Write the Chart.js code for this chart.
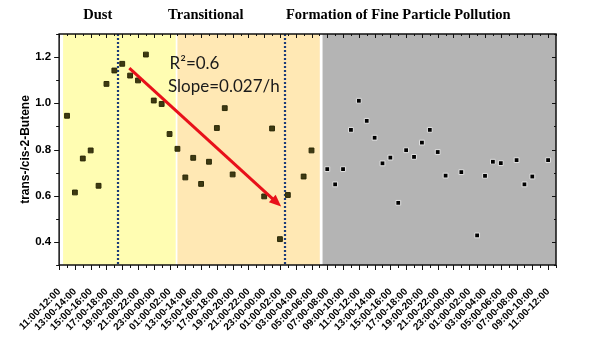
<!DOCTYPE html>
<html>
<head>
<meta charset="utf-8">
<script src="https://cdn.jsdelivr.net/npm/chart.js@4.4.1/dist/chart.umd.min.js"></script>
<style>
  html, body { margin: 0; padding: 0; background: #fff; }
  #wrap { width: 600px; height: 349px; }
</style>
</head>
<body>
<div id="wrap"><canvas id="myChart"></canvas></div>
<script>
// hourly trans-/cis-2-butene ratio, null = no sample that hour
const ratio = [
  0.946, 0.614, 0.761, 0.796, 0.643, 1.084, 1.142, 1.171, 1.120, 1.099,
  1.211, 1.012, 0.997, 0.867, 0.803, 0.679, 0.764, 0.651, 0.747, 0.893,
  0.979, 0.692, null, null, null, 0.597, 0.891, 0.412, 0.603, null,
  0.683, 0.796, null, 0.715, 0.649, 0.715, 0.885, 1.011, 0.924, 0.851,
  0.740, 0.765, 0.569, 0.797, 0.768, 0.830, 0.885, 0.789, 0.687, null,
  0.702, null, 0.428, 0.686, 0.747, 0.741, null, 0.754, 0.649, 0.683,
  null, 0.754
];

const xTickLabels = [
  '11:00-12:00', '13:00-14:00', '15:00-16:00', '17:00-18:00', '19:00-20:00',
  '21:00-22:00', '23:00-00:00', '01:00-02:00', '13:00-14:00', '15:00-16:00',
  '17:00-18:00', '19:00-20:00', '21:00-22:00', '23:00-00:00', '01:00-02:00',
  '03:00-04:00', '05:00-06:00', '07:00-08:00', '09:00-10:00', '11:00-12:00',
  '13:00-14:00', '15:00-16:00', '17:00-18:00', '19:00-20:00', '21:00-22:00',
  '23:00-00:00', '01:00-02:00', '03:00-04:00', '05:00-06:00', '07:00-08:00',
  '09:00-10:00', '11:00-12:00'
];

const yTickValues = [0.4, 0.6, 0.8, 1.0, 1.2];
const phaseNames = ['Dust', 'Transitional', 'Formation of Fine Particle Pollution'];
const fitText = ['R\u00B2=0.6', 'Slope=0.027/h'];

// layout of the annotations, in axis units
const shading = [
  { from: -0.5, to: 13.78, color: '#FFFDB2' },
  { from: 14.0, to: 32.05, color: '#FFE8B4' },
  { from: 32.4, to: 62, color: '#B4B4B4' }
];
const dividers = [6.48, 27.7];
const arrowLine = [{ x: 7.9, y: 1.152 }, { x: 27.15, y: 0.553 }];
const phaseCenters = [3.9, 17.6, 42.0];
const fitTextPos = [{ x: 13.0, y: 1.171 }, { x: 12.8, y: 1.071 }];

const points = ratio.map((v, i) => ({ x: i, y: v })).filter(p => p.y !== null);

function shaded(k) {
  return (k >= shading[0].from && k <= shading[0].to) || (k >= shading[1].from && k <= shading[1].to);
}

const decor = {
  id: 'decor',
  beforeDatasetsDraw(chart) {
    const { ctx, chartArea: a, scales: { x } } = chart;
    ctx.save();
    shading.forEach(s => {
      const x0 = x.getPixelForValue(s.from);
      const x1 = x.getPixelForValue(s.to);
      ctx.fillStyle = s.color;
      ctx.fillRect(x0, a.top, x1 - x0, a.bottom - a.top);
    });
    ctx.strokeStyle = '#1c3b7a';
    ctx.lineWidth = 2.2;
    ctx.setLineDash([2, 2]);
    dividers.forEach(d => {
      const px = Math.round(x.getPixelForValue(d));
      ctx.beginPath();
      ctx.moveTo(px, a.top);
      ctx.lineTo(px, a.bottom);
      ctx.stroke();
    });
    ctx.restore();
  },
  afterDatasetsDraw(chart) {
    const { ctx, chartArea: a, scales: { x, y } } = chart;
    ctx.save();

    // red trend arrow
    const x0 = x.getPixelForValue(arrowLine[0].x), y0 = y.getPixelForValue(arrowLine[0].y);
    const x1 = x.getPixelForValue(arrowLine[1].x), y1 = y.getPixelForValue(arrowLine[1].y);
    const ang = Math.atan2(y1 - y0, x1 - x0);
    const head = 12;
    ctx.strokeStyle = '#E8101A';
    ctx.fillStyle = '#E8101A';
    ctx.lineWidth = 3;
    ctx.beginPath();
    ctx.moveTo(x0, y0);
    ctx.lineTo(x1 - Math.cos(ang) * head * 0.8, y1 - Math.sin(ang) * head * 0.8);
    ctx.stroke();
    ctx.beginPath();
    ctx.moveTo(x1, y1);
    ctx.lineTo(x1 - head * Math.cos(ang) + 5 * Math.sin(ang), y1 - head * Math.sin(ang) - 5 * Math.cos(ang));
    ctx.lineTo(x1 - head * Math.cos(ang) - 5 * Math.sin(ang), y1 - head * Math.sin(ang) + 5 * Math.cos(ang));
    ctx.closePath();
    ctx.fill();

    // fit text
    ctx.fillStyle = '#1a1a1a';
    ctx.font = '17px Lato';
    ctx.textAlign = 'left';
    ctx.textBaseline = 'middle';
    fitText.forEach((t, i) => {
      ctx.fillText(t, x.getPixelForValue(fitTextPos[i].x), y.getPixelForValue(fitTextPos[i].y));
    });

    // frame + ticks (bottom/left outward, top/right inward)
    ctx.strokeStyle = '#111';
    ctx.lineWidth = 1;
    for (let k = -1; k <= 62; k++) {
      const px = Math.round(x.getPixelForValue(k)) + 0.5;
      const major = (k + 1) % 2 === 0;
      ctx.beginPath();
      ctx.moveTo(px, a.bottom);
      ctx.lineTo(px, a.bottom + (major ? 5 : 3));
      ctx.moveTo(px, a.top);
      ctx.lineTo(px, a.top + (major ? 4 : 2));
      ctx.stroke();
    }
    for (let v = 3; v <= 13; v++) {
      const py = Math.round(y.getPixelForValue(v / 10)) + 0.5;
      const major = v % 2 === 0;
      ctx.beginPath();
      ctx.moveTo(a.left, py);
      ctx.lineTo(a.left - (major ? 5 : 3), py);
      ctx.moveTo(a.right, py);
      ctx.lineTo(a.right - (major ? 4 : 2), py);
      ctx.stroke();
    }
    ctx.lineWidth = 1.5;
    ctx.strokeRect(a.left, a.top, a.right - a.left, a.bottom - a.top);
    ctx.restore();
  },
  afterDraw(chart) {
    const { ctx, scales: { x } } = chart;
    ctx.save();
    ctx.fillStyle = '#000';
    ctx.font = 'bold 14.5px "Liberation Serif"';
    ctx.textAlign = 'center';
    ctx.textBaseline = 'alphabetic';
    phaseNames.forEach((t, i) => {
      ctx.fillText(t, x.getPixelForValue(phaseCenters[i]), 18.5);
    });
    ctx.restore();
  }
};

new Chart(document.getElementById('myChart'), {
  type: 'scatter',
  data: {
    datasets: [{
      data: points,
      pointStyle: 'rect',
      pointRadius: 3.4,
      pointBorderWidth: 1,
      backgroundColor: c => shaded(c.raw.x) ? '#3e3a12' : '#000',
      borderColor: c => shaded(c.raw.x) ? '#2c2a08' : '#e2e2e2',
      showLine: false
    }]
  },
  options: {
    responsive: true,
    maintainAspectRatio: false,
    animation: false,
    layout: { padding: { top: 34, right: 44, left: 0, bottom: 0 } },
    plugins: { legend: { display: false }, tooltip: { enabled: false } },
    scales: {
      x: {
        type: 'linear',
        min: -1,
        max: 62,
        grid: { display: false, drawTicks: false },
        border: { display: false },
        afterBuildTicks: s => { s.ticks = xTickLabels.map((_, i) => ({ value: 2 * i - 1 })); },
        afterFit: s => { s.height = 84; },
        ticks: {
          autoSkip: false,
          minRotation: 45,
          maxRotation: 45,
          padding: 21,
          color: '#000',
          font: { family: 'Arial, "Liberation Sans"', size: 10, weight: 'bold' },
          callback: (v, i) => xTickLabels[i]
        }
      },
      y: {
        min: 0.3,
        max: 1.3,
        grid: { display: false, drawTicks: false },
        border: { display: false },
        afterBuildTicks: s => { s.ticks = yTickValues.map(v => ({ value: v })); },
        afterFit: s => { s.width = 58; },
        title: {
          display: true,
          text: 'trans-/cis-2-Butene',
          color: '#000',
          padding: { top: 17, bottom: 0 },
          font: { family: 'Arial, "Liberation Sans"', size: 12, weight: 'bold' }
        },
        ticks: {
          padding: 8,
          color: '#000',
          font: { family: 'Arial, "Liberation Sans"', size: 11.5, weight: 'bold' },
          callback: v => v.toFixed(1)
        }
      }
    }
  },
  plugins: [decor]
});
</script>
</body>
</html>
